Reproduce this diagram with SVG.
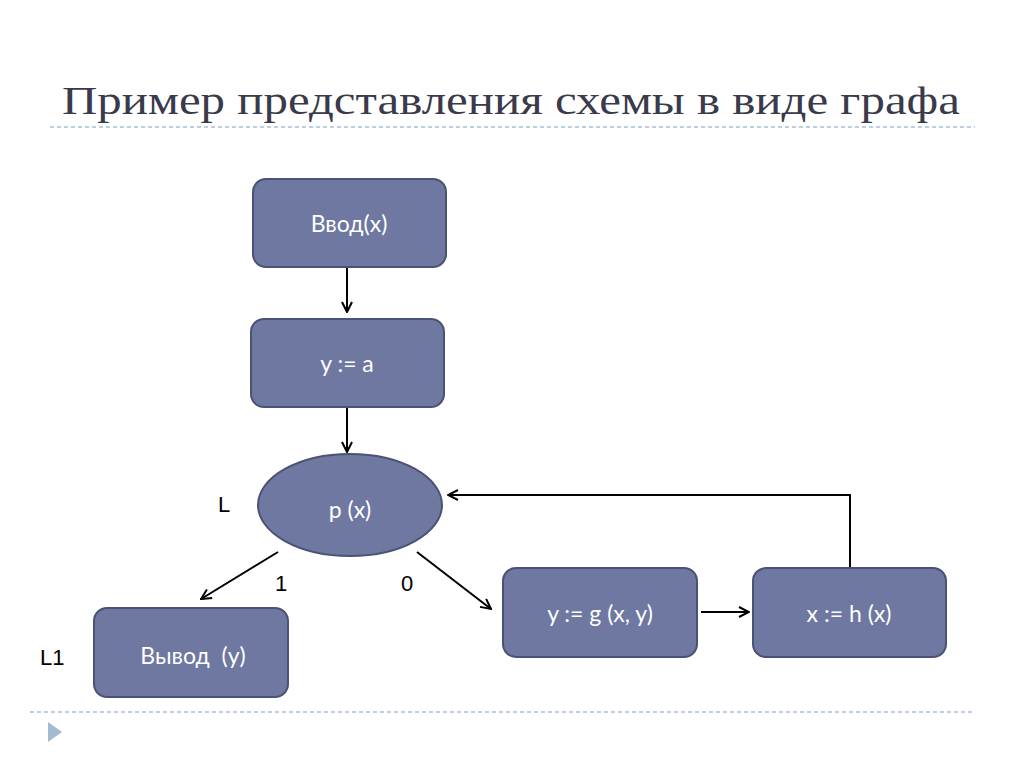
<svg xmlns="http://www.w3.org/2000/svg" width="1024" height="767" viewBox="0 0 1024 767">
<defs>
<style>
.node{fill:#6e78a1;stroke:#4b5274;stroke-width:2}
.nt{font-family:"Lato","Open Sans",sans-serif;font-size:23px;fill:#ffffff;text-anchor:middle}
.lbl{font-family:"Liberation Sans",Arial,sans-serif;font-size:22px;fill:#000}
.edge{fill:none;stroke:#000;stroke-width:2}
.dash{stroke:#a9c1d6;stroke-width:1.5;stroke-dasharray:4 3}
</style>
<marker id="arr" viewBox="0 0 12 12" refX="11" refY="6" markerWidth="12" markerHeight="12" markerUnits="userSpaceOnUse" orient="auto">
<path d="M1,1 L11,6 L1,11" fill="none" stroke="#000" stroke-width="2"/>
</marker>
</defs>
<rect width="1024" height="767" fill="#ffffff"/>
<text x="62" y="114" font-family="'Liberation Serif','DejaVu Serif',serif" font-size="40" fill="#3a3a4a" textLength="898" lengthAdjust="spacingAndGlyphs">Пример представления схемы в виде графа</text>
<line class="dash" x1="50" y1="127" x2="975" y2="127"/>
<line class="dash" x1="30" y1="712" x2="975" y2="712"/>
<polygon points="48,722 62,732 48,742" fill="#a3bad0"/>

<g id="connectors">
<path class="edge" d="M347,268 V312" marker-end="url(#arr)"/>
<path class="edge" d="M347,408 V452" marker-end="url(#arr)"/>
<path class="edge" d="M278,552 L201,599" marker-end="url(#arr)"/>
<path class="edge" d="M417,552 L491,609" marker-end="url(#arr)"/>
<path class="edge" d="M701,612 H749" marker-end="url(#arr)"/>
<path class="edge" d="M850,568 V495 H448" marker-end="url(#arr)"/>
</g>

<g id="n_input">
<rect class="node" x="253" y="179" width="193" height="88" rx="13"/>
<text class="nt" x="349" y="232">Ввод(x)</text>
</g>
<g id="n_assign">
<rect class="node" x="251" y="319" width="193" height="88" rx="13"/>
<text class="nt" x="347" y="372">y := a</text>
</g>
<g id="n_cond">
<ellipse class="node" cx="350" cy="505" rx="92" ry="51"/>
<text class="nt" x="350" y="518">p (x)</text>
</g>
<g id="n_output">
<rect class="node" x="94" y="608" width="194" height="89" rx="13"/>
<text class="nt" x="193" y="664">Вывод&#160; (y)</text>
</g>
<g id="n_g">
<rect class="node" x="503" y="568" width="194" height="89" rx="13"/>
<text class="nt" x="600" y="622">y := g (x, y)</text>
</g>
<g id="n_h">
<rect class="node" x="753" y="568" width="193" height="89" rx="13"/>
<text class="nt" x="849" y="622">x := h (x)</text>
</g>

<g id="labels">
<text class="lbl" x="218" y="512">L</text>
<text class="lbl" x="275" y="591">1</text>
<text class="lbl" x="401" y="591">0</text>
<text class="lbl" x="40" y="665">L1</text>
</g>
</svg>
